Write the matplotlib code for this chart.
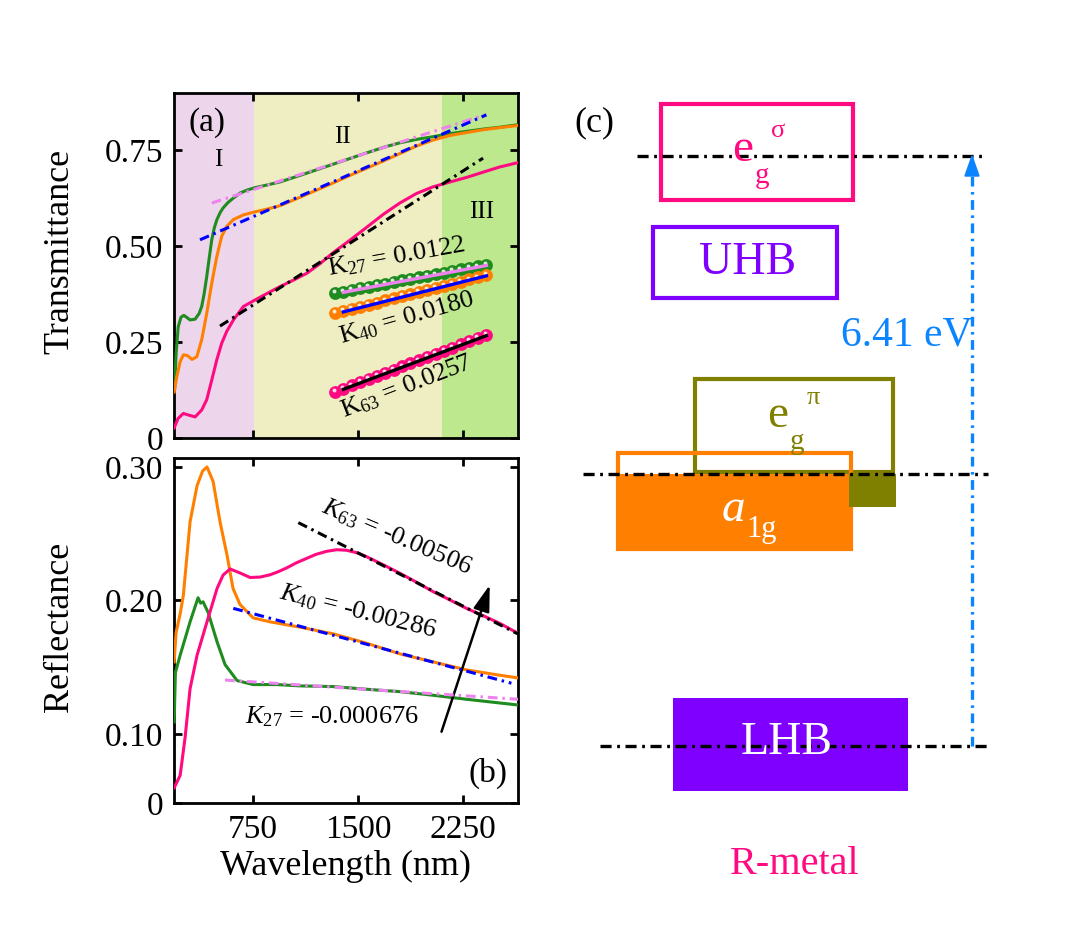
import numpy as np
import matplotlib
matplotlib.use('Agg')
import matplotlib.pyplot as plt
from matplotlib.patches import Rectangle, Polygon
import matplotlib.transforms as mtransforms

plt.rcParams['font.family'] = ['Liberation Serif', 'DejaVu Serif']
plt.rcParams['mathtext.fontset'] = 'custom'
plt.rcParams['mathtext.rm'] = 'Liberation Serif'
plt.rcParams['mathtext.it'] = 'Liberation Serif:italic'
plt.rcParams['lines.scale_dashes'] = False

# ---------------- data ----------------
# (a) transmittance
wl_t_green = [190, 200, 215, 235, 255, 275, 300, 336, 365, 383, 400, 419, 437, 455, 473, 491, 515, 536, 570,
              610, 657, 710, 764, 850, 943, 1086, 1200, 1321, 1450, 1564, 1700, 1800, 1920, 2036, 2160, 2279,
              2400, 2520, 2640]
t_green = [0.13, 0.22, 0.29, 0.315, 0.32, 0.315, 0.308, 0.31, 0.325, 0.343, 0.375, 0.421, 0.47, 0.517, 0.548,
           0.569, 0.588, 0.60, 0.614, 0.626, 0.639, 0.647, 0.653, 0.66, 0.668, 0.685, 0.699, 0.714, 0.73, 0.744,
           0.76, 0.77, 0.779, 0.786, 0.794, 0.80, 0.806, 0.811, 0.817]

wl_t_orange = [186, 205, 229, 252, 281, 314, 348, 383, 419, 455, 491, 526, 562, 610, 681, 764, 850, 943, 1086,
               1207, 1321, 1443, 1564, 1679, 1800, 1921, 2036, 2157, 2279, 2393, 2520, 2640]
t_orange = [0.12, 0.16, 0.199, 0.217, 0.215, 0.205, 0.212, 0.256, 0.325, 0.404, 0.473, 0.526, 0.552, 0.57,
            0.582, 0.59, 0.597, 0.606, 0.628, 0.647, 0.665, 0.685, 0.704, 0.722, 0.742, 0.762, 0.777, 0.789, 0.797,
            0.804, 0.81, 0.815]

wl_t_pink = [186, 214, 252, 288, 336, 383, 419, 455, 491, 526, 562, 610, 681, 764, 850, 943, 1040, 1136, 1230,
             1321, 1443, 1564, 1680, 1800, 1920, 2036, 2160, 2279, 2400, 2514, 2640]
t_pink = [0.026, 0.051, 0.064, 0.06, 0.055, 0.073, 0.10, 0.151, 0.204, 0.247, 0.278, 0.308, 0.343, 0.36, 0.377,
          0.395, 0.412, 0.43, 0.455, 0.483, 0.516, 0.55, 0.583, 0.613, 0.638, 0.655, 0.668, 0.68, 0.694, 0.707,
          0.718]

# linear fits in (a): (start wl, end wl), (start T, end T)
fit_a_wl = {'K27': [455, 2407], 'K40': [371, 2419], 'K63': [514, 2395]}
fit_a_t = {'K27': [0.613, 0.843], 'K40': [0.517, 0.843], 'K63': [0.292, 0.730]}

# inset scaled data in (a)
inset_x = [1336, 1396, 1456, 1516, 1576, 1636, 1696, 1756, 1816, 1876, 1936, 1996, 2056, 2116, 2176, 2236,
           2296, 2356, 2419]
inset_k27 = [0.378, 0.382, 0.386, 0.391, 0.395, 0.399, 0.403, 0.407, 0.411, 0.415, 0.419, 0.423, 0.427, 0.431,
             0.436, 0.440, 0.444, 0.448, 0.452]
inset_k40 = [0.326, 0.331, 0.337, 0.342, 0.348, 0.353, 0.359, 0.364, 0.370, 0.375, 0.381, 0.386, 0.392, 0.397,
             0.403, 0.408, 0.414, 0.419, 0.425]
inset_k63 = [0.121, 0.129, 0.137, 0.146, 0.154, 0.162, 0.170, 0.178, 0.187, 0.195, 0.203, 0.211, 0.220, 0.228,
             0.236, 0.244, 0.253, 0.261, 0.269]

# (b) reflectance
wl_r_orange = [186, 200, 229, 252, 300, 350, 390, 421, 465, 514, 564, 607, 657, 750, 871, 1086, 1324, 1562,
               1800, 2038, 2276, 2514, 2645]
r_orange = [0.154, 0.176, 0.190, 0.204, 0.259, 0.286, 0.297, 0.300, 0.289, 0.259, 0.234, 0.209, 0.197, 0.187,
            0.184, 0.180, 0.175, 0.168, 0.160, 0.154, 0.148, 0.144, 0.142]

wl_r_green = [186, 195, 229, 300, 357, 375, 393, 429, 493, 550, 636, 750, 921, 1086, 1324, 1562, 1800, 2038,
              2276, 2645]
r_green = [0.109, 0.146, 0.159, 0.184, 0.202, 0.198, 0.199, 0.191, 0.169, 0.152, 0.140, 0.137, 0.137, 0.136,
           0.1355, 0.1335, 0.1317, 0.129, 0.126, 0.1217]

wl_r_pink = [186, 229, 264, 300, 350, 421, 493, 536, 586, 657, 729, 800, 871, 930, 993, 1060, 1133, 1200, 1276,
             1350, 1419, 1490, 1562, 1680, 1800, 1920, 2038, 2160, 2276, 2400, 2514, 2645]
r_pink = [0.0596, 0.069, 0.097, 0.134, 0.159, 0.184, 0.209, 0.219, 0.2236, 0.2206, 0.2172, 0.2175, 0.2192,
          0.2215, 0.2245, 0.2282, 0.2315, 0.2345, 0.2368, 0.238, 0.2376, 0.2358, 0.2328, 0.2268, 0.2204, 0.2136,
          0.2066, 0.2003, 0.1941, 0.1884, 0.1829, 0.1754]

fit_b_wl = {'K27': [550, 2645], 'K40': [609, 2598], 'K63': [1074, 2645]}
fit_b_r = {'K27': [0.1404, 0.126], 'K40': [0.1941, 0.138], 'K63': [0.2583, 0.1749]}

# regions
region_edges = [185, 760, 2100, 2645]
region_labels = ['I', 'II', 'III']

# colours
C_GREEN = '#1E8C1E'
C_ORANGE = '#FF8000'
C_PINK = '#FF0A80'
C_VIOLET = '#EE82EE'
C_BLUE = '#0000FF'
C_PURPLE = '#8000FF'
C_OLIVE = '#808000'
C_SKY = '#0A84FF'
REGION_COLORS = ['#EDD6EC', '#EEEEC2', '#BDE88E']

W, H = 1068, 927
fig = plt.figure(figsize=(W / 100, H / 100), dpi=100)

def px_axes(l, t, r, b):
    return fig.add_axes([l / W, 1 - b / H, (r - l) / W, (b - t) / H])

axa = px_axes(174, 93, 518, 438)
axb = px_axes(174, 458, 518, 803)

XL = (185, 2645)
DASHDOT = (7, 3.5, 1.8, 3.5)

def style(ax):
    for s in ax.spines.values():
        s.set_linewidth(2.0)
    ax.tick_params(direction='in', length=6, width=2.0, top=True, right=True, labelsize=24, pad=8)
    ax.set_xlim(*XL)
    ax.set_xticks([750, 1500, 2250])

# ---------- panel (a) ----------
style(axa)
for i in range(3):
    axa.axvspan(region_edges[i], region_edges[i + 1], color=REGION_COLORS[i], lw=0, zorder=0)
axa.set_ylim(0, 0.9)
axa.set_yticks([0, 0.25, 0.5, 0.75])
axa.set_yticklabels(['0', '0.25', '0.50', '0.75'])
axa.set_xticklabels([])
axa.plot(wl_t_green, t_green, color=C_GREEN, lw=2.2, zorder=3)
axa.plot(wl_t_orange, t_orange, color=C_ORANGE, lw=2.2, zorder=3)
axa.plot(wl_t_pink, t_pink, color=C_PINK, lw=2.2, zorder=3)
for key, c in (('K27', C_VIOLET), ('K40', C_BLUE), ('K63', 'black')):
    ln, = axa.plot(fit_a_wl[key], fit_a_t[key], color=c, lw=2.2, zorder=4)
    ln.set_dashes(DASHDOT)

hl = mtransforms.offset_copy(axa.transData, fig=fig, x=-1.0, y=1.2, units='points')
for vals, c, fc, lc in ((inset_k27, C_GREEN, C_GREEN, C_VIOLET),
                        (inset_k40, C_ORANGE, C_ORANGE, C_BLUE),
                        (inset_k63, C_PINK, C_PINK, 'black')):
    axa.plot(inset_x, vals, 'o', ms=8, mfc=fc, mec=c, mew=1.2, zorder=5)
    axa.plot(inset_x, vals, 'o', ms=2.8, mfc='white', mec='none', alpha=0.85, zorder=6, transform=hl)
    axa.plot([inset_x[1], inset_x[-1]], [vals[1] - 0.002, vals[-1] - 0.002], color=lc, lw=2.4, zorder=7)

axa.text(421, 0.822, '(a)', fontsize=24, ha='center', va='center')
axa.text(500, 0.726, 'I', fontsize=18, ha='center', va='center')
axa.text(1393, 0.786, 'II', fontsize=18, ha='center', va='center')
axa.text(2386, 0.59, 'III', fontsize=18, ha='center', va='center')
axa.text(1776, 0.473, r'$\mathrm{K}_{27}$ = 0.0122', fontsize=19, ha='center', va='center', rotation=10,
         rotation_mode='anchor', zorder=8)
axa.text(1853, 0.313, r'$\mathrm{K}_{40}$ = 0.0180', fontsize=19, ha='center', va='center', rotation=16,
         rotation_mode='anchor', zorder=8)
axa.text(1848, 0.134, r'$\mathrm{K}_{63}$ = 0.0257', fontsize=19, ha='center', va='center', rotation=21,
         rotation_mode='anchor', zorder=8)
axa.set_ylabel('Transmittance', fontsize=26)
axa.yaxis.set_label_coords(-0.285, 0.54)

# ---------- panel (b) ----------
style(axb)
RB = (0.0483, 0.3067)
axb.set_ylim(*RB)
axb.set_yticks([RB[0], 0.10, 0.20, 0.30])
axb.set_yticklabels(['0', '0.10', '0.20', '0.30'])
axb.plot(wl_r_orange, r_orange, color=C_ORANGE, lw=2.2, zorder=3)
axb.plot(wl_r_green, r_green, color=C_GREEN, lw=2.2, zorder=3)
axb.plot(wl_r_pink, r_pink, color=C_PINK, lw=2.2, zorder=3)
for key, c in (('K27', C_VIOLET), ('K40', C_BLUE), ('K63', 'black')):
    ln, = axb.plot(fit_b_wl[key], fit_b_r[key], color=c, lw=2.2, zorder=4)
    ln.set_dashes(DASHDOT)
axb.annotate('', xy=(2443, 0.2116), xytext=(2098, 0.1017),
             arrowprops=dict(arrowstyle='-|>,head_length=0.8,head_width=0.25', color='black', lw=1.8,
                             mutation_scale=20, shrinkA=0, shrinkB=0))
axb.text(1779, 0.2476, r'$K_{\mathit{63}}$ = -0.00506', fontsize=19, ha='center', va='center', rotation=-23,
         rotation_mode='anchor')
axb.text(1500, 0.1914, r'$K_{\mathit{40}}$ = -0.00286', fontsize=19, ha='center', va='center', rotation=-14,
         rotation_mode='anchor')
axb.text(1314, 0.1127, r'$K_{\mathit{27}}$ = -0.000676', fontsize=19, ha='center', va='center')
axb.text(2429, 0.0708, '(b)', fontsize=24, ha='center', va='center')
axb.set_ylabel('Reflectance', fontsize=26)
axb.yaxis.set_label_coords(-0.285, 0.51)
axb.set_xlabel('Wavelength (nm)', fontsize=26, labelpad=4)

# ---------- panel (c): schematic in pixel coordinates ----------
axc = fig.add_axes([540 / W, 0, (W - 540) / W, 1])
axc.set_xlim(540, W)
axc.set_ylim(H, 0)
axc.axis('off')

def rect(x0, y0, x1, y1, **kw):
    axc.add_patch(Rectangle((x0, y0), x1 - x0, y1 - y0, **kw))

rect(661, 104, 853, 200, fill=False, ec=C_PINK, lw=3, zorder=2)
rect(653, 227, 837, 298, fill=False, ec=C_PURPLE, lw=3, zorder=2)
rect(695, 379, 893, 472, fill=False, ec=C_OLIVE, lw=3, zorder=2)
rect(618, 453, 851, 549, fill=False, ec=C_ORANGE, lw=3, zorder=2)
rect(617, 474, 849, 549, fc=C_ORANGE, ec='none', zorder=2)
rect(849, 474, 896, 507, fc=C_OLIVE, ec='none', zorder=2)
rect(673, 698, 908, 791, fc=C_PURPLE, ec='none', zorder=2)

for y, x0, x1 in ((156, 637, 982), (474, 583, 988), (746, 600, 988)):
    ln, = axc.plot([x0, x1], [y, y], color='black', lw=2.4, zorder=3)
    ln.set_dashes((8, 4, 2, 4))

ln, = axc.plot([972, 972], [746, 172], color=C_SKY, lw=2.4, zorder=3)
ln.set_dashes((7, 4, 1.8, 4))
axc.add_patch(Polygon([[972, 156], [965, 176], [979, 176]], closed=True, fc=C_SKY, ec=C_SKY, lw=1, zorder=4))

axc.text(743, 150, 'e', color=C_PINK, fontsize=34, ha='center', va='center', zorder=5)
axc.text(762, 176, 'g', color=C_PINK, fontsize=21, ha='center', va='center', zorder=5)
axc.text(778, 131, 'σ', color=C_PINK, fontsize=19, ha='center', va='center', zorder=5)
axc.text(748, 263, 'UHB', color=C_PURPLE, fontsize=33, ha='center', va='center', zorder=5)
axc.text(778, 416, 'e', color=C_OLIVE, fontsize=34, ha='center', va='center', zorder=5)
axc.text(797, 442, 'g', color=C_OLIVE, fontsize=21, ha='center', va='center', zorder=5)
axc.text(813, 398, 'π', color=C_OLIVE, fontsize=19, ha='center', va='center', zorder=5)
axc.text(733, 510, 'a', color='white', fontsize=34, style='italic', ha='center', va='center', zorder=5)
axc.text(762, 530, '1g', color='white', fontsize=22, ha='center', va='center', zorder=5)
axc.text(787, 743, 'LHB', color='white', fontsize=33, ha='center', va='center', zorder=5)
axc.text(907, 335, '6.41 eV', color=C_SKY, fontsize=30, ha='center', va='center', zorder=5)
axc.text(594, 123, '(c)', color='black', fontsize=26, ha='center', va='center', zorder=5)
axc.text(795, 865, 'R-metal', color=C_PINK, fontsize=29, ha='center', va='center', zorder=5)

fig.savefig('out.png', dpi=100)
